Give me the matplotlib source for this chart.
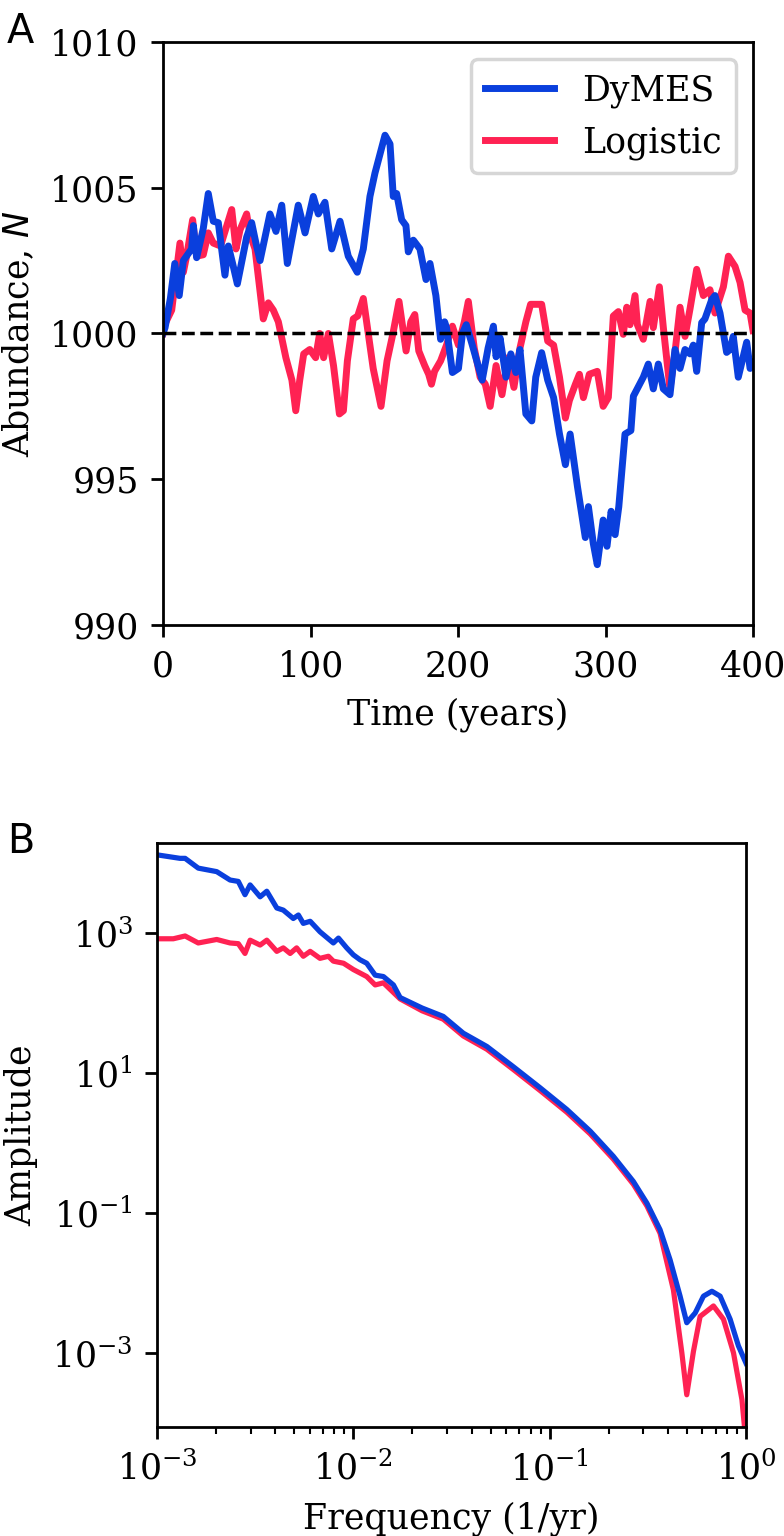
import matplotlib
matplotlib.use("Agg")
import matplotlib.pyplot as plt
import matplotlib.ticker as mticker
import numpy as np

plt.rcParams["font.family"] = "DejaVu Serif"

BLUE = "#0a3fdd"
RED = "#ff2253"

# --- Panel A: abundance time series ---
dymes_t = [0, 1.4, 5, 8, 11, 13.8, 19.4, 20.6, 22.8, 27.3, 30.7, 34.1, 37.5, 42, 44.3,
           47.2, 50.4, 56.7, 60.1, 63, 65.8, 72.5, 76.6, 80.5, 84.3, 91.7, 96.3, 101.9,
           105.3, 109.8, 114.4, 120, 125.6, 131.7, 135.8, 140.3, 143.7, 150.5, 153.9,
           156.1, 158.4, 161.8, 164.7, 166.3, 169.7, 174.2, 178.3, 181, 185, 188.2,
           190.9, 192.2, 196.2, 200.3, 203, 205.6, 209.7, 216.4, 220.4, 224, 225.8,
           228.5, 232.5, 235.8, 239.2, 242, 246, 250, 252.7, 256.7, 260.8, 264.8, 268.8,
           272.8, 276, 281, 286.3, 288.4, 291.7, 294.4, 298.4, 301, 303.8, 306.5, 309,
           313.2, 317.2, 318.9, 325.6, 329, 332.4, 335.8, 339.2, 343.7, 347.1, 350.5,
           353.9, 357.3, 359.5, 361.8, 365.2, 367.4, 372, 374.2, 377.6, 382.1, 384.4,
           386.6, 390, 395.7, 398, 400]
dymes_n = [1000.0, 1000.2, 1001.2, 1002.4, 1001.3, 1002.5, 1002.9, 1003.7, 1002.6, 1003.6,
           1004.8, 1003.85, 1003.8, 1002.0, 1003.0, 1002.4, 1001.7, 1003.3, 1003.8, 1003.1,
           1002.5, 1004.1, 1003.5, 1004.4, 1002.4, 1004.4, 1003.45, 1004.7, 1004.1, 1004.5,
           1002.9, 1003.85, 1002.65, 1002.1, 1002.9, 1004.7, 1005.5, 1006.8, 1006.5, 1004.7,
           1004.8, 1003.9, 1003.7, 1002.8, 1003.2, 1002.9, 1001.85, 1002.4, 1001.3, 999.8,
           1000.4, 1000.2, 998.66, 998.8, 1000.0, 1000.3, 999.6, 998.4, 999.5, 1000.25,
           999.2, 999.85, 998.5, 999.3, 998.66, 999.45, 997.24, 997.0, 998.5, 999.34,
           998.4, 997.8, 996.55, 995.5, 996.55, 994.74, 993.0, 994.06, 992.8, 992.07,
           993.6, 992.7, 993.9, 993.1, 994.06, 996.55, 996.67, 997.85, 998.5, 998.95,
           998.1, 998.95, 998.1, 997.9, 999.45, 998.8, 999.45, 999.3, 999.6, 998.7,
           1000.37, 1000.5, 1001.16, 1001.3, 1000.7, 999.35, 999.45, 999.9, 998.5,
           999.7, 998.8, 999.0]

logistic_t = [0, 1.1, 5.9, 11.5, 13.8, 16, 20.1, 22.8, 27.3, 30.7, 34.1, 39, 46.6, 49.5,
              52.2, 56.7, 59, 62.4, 68, 71.4, 74.8, 78.2, 83.3, 87.4, 90, 92.7, 95.4,
              99.5, 103.5, 106.2, 108.9, 112.1, 115.6, 119.6, 122.3, 125, 129, 132,
              135.8, 142.5, 147.8, 151.9, 155.9, 160, 164.8, 168, 170.7, 173.4, 177.4,
              180.1, 182, 184.1, 188.2, 192.2, 196.2, 200.3, 204.3, 207, 211, 215, 218.5,
              221.8, 225.8, 229.8, 233.9, 237.9, 242, 246, 249.2, 256.7, 260.8, 264.8,
              268.8, 272.8, 275.5, 279.6, 282.3, 285, 289, 294.4, 298.4, 301.9, 305.3,
              308.7, 312, 314.4, 316.6, 320, 321.6, 325.6, 330.2, 332.4, 336.5, 339.2,
              343.7, 347.1, 350.5, 353.9, 357.3, 361.8, 366.3, 370.8, 374.2, 379.9,
              383.3, 387.8, 391.2, 394.6, 398, 400]
logistic_n = [1000.0, 1000.3, 1000.8, 1003.1, 1002.1, 1002.65, 1003.9, 1002.65, 1002.7,
              1003.45, 1003.1, 1003.0, 1004.25, 1002.9, 1003.55, 1004.1, 1003.4, 1002.9,
              1000.5, 1001.05, 1000.8, 1000.4, 999.17, 998.4, 997.35, 998.4, 999.3,
              999.45, 999.17, 1000.0, 999.17, 1000.0, 998.9, 997.24, 997.35, 999.06,
              1000.5, 1000.6, 1001.2, 998.8, 997.5, 999.06, 1000.0, 1001.1, 999.4,
              1000.4, 1000.65, 999.4, 998.9, 998.6, 998.26, 998.7, 999.06, 999.6,
              1000.25, 999.6, 1000.4, 1001.1, 999.5, 998.5, 998.26, 997.5, 998.9, 997.9,
              999.17, 998.15, 999.5, 1000.4, 1001.0, 1001.0, 999.74, 999.6, 998.5, 997.1,
              997.7, 998.26, 998.6, 997.8, 998.6, 998.7, 997.5, 997.8, 1000.6, 1000.75,
              999.97, 1000.9, 1000.3, 1001.3, 1000.3, 999.8, 1001.1, 1000.2, 1001.6,
              1000.2, 998.1, 999.35, 1000.9, 999.9, 1000.85, 1002.2, 1001.3, 1001.5,
              1000.7, 1001.6, 1002.65, 1002.3, 1001.75, 1000.8, 1000.7, 1000.1]

carrying_capacity = 1000

# --- Panel B: amplitude spectra (log10 values) ---
dymes_logf = [-3.0, -2.883, -2.857, -2.79, -2.696, -2.628, -2.586, -2.552, -2.526, -2.475,
              -2.441, -2.39, -2.357, -2.306, -2.28, -2.255, -2.22, -2.17, -2.102, -2.076,
              -2.034, -2.0, -1.966, -1.932, -1.889, -1.847, -1.796, -1.762, -1.65, -1.542,
              -1.44, -1.32, -1.185, -1.049, -0.913, -0.794, -0.676, -0.574, -0.505,
              -0.438, -0.387, -0.336, -0.302, -0.259, -0.217, -0.174, -0.132, -0.081,
              -0.039, 0.0]
dymes_logamp = [4.12, 4.07, 4.07, 3.93, 3.88, 3.76, 3.74, 3.55, 3.69, 3.52, 3.60, 3.36,
                3.33, 3.21, 3.26, 3.14, 3.17, 3.02, 2.86, 2.93, 2.79, 2.69, 2.62, 2.57,
                2.40, 2.38, 2.26, 2.08, 1.93, 1.81, 1.57, 1.38, 1.09, 0.79, 0.48, 0.17,
                -0.19, -0.55, -0.86, -1.24, -1.67, -2.19, -2.57, -2.43, -2.19, -2.12,
                -2.19, -2.52, -2.9, -3.15]

logistic_logf = [-3.0, -2.917, -2.857, -2.79, -2.696, -2.628, -2.586, -2.552, -2.526,
                 -2.475, -2.441, -2.39, -2.357, -2.322, -2.289, -2.255, -2.22, -2.17,
                 -2.127, -2.102, -2.05, -2.0, -1.932, -1.889, -1.847, -1.762, -1.65,
                 -1.542, -1.44, -1.32, -1.185, -1.049, -0.913, -0.794, -0.676, -0.574,
                 -0.505, -0.438, -0.37, -0.327, -0.302, -0.268, -0.234, -0.166, -0.115,
                 -0.064, -0.021, 0.0]
logistic_logamp = [2.92, 2.92, 2.96, 2.86, 2.91, 2.86, 2.85, 2.71, 2.90, 2.83, 2.90, 2.74,
                   2.79, 2.71, 2.79, 2.67, 2.74, 2.64, 2.67, 2.60, 2.57, 2.48, 2.38, 2.26,
                   2.29, 2.06, 1.89, 1.77, 1.53, 1.34, 1.05, 0.75, 0.44, 0.13, -0.23,
                   -0.59, -0.90, -1.29, -2.1, -3.0, -3.6, -2.98, -2.48, -2.33, -2.52,
                   -3.0, -3.67, -4.3]

fig = plt.figure(figsize=(784 / 250, 1536 / 250), dpi=250)

# Panel A
axA = fig.add_axes([0.2079, 0.5931, 0.7526, 0.3796])
lA_red, = axA.plot(logistic_t, logistic_n, color=RED, lw=2.0, label="Logistic")
lA_blue, = axA.plot(dymes_t, dymes_n, color=BLUE, lw=2.0, label="DyMES")
axA.axhline(carrying_capacity, color="k", ls="--", lw=1)
axA.set_xlim(0, 400)
axA.set_ylim(990, 1010)
axA.set_yticks([990, 995, 1000, 1005, 1010])
axA.set_xticks([0, 100, 200, 300, 400])
axA.set_xlabel("Time (years)")
axA.set_ylabel("Abundance, $N$")
axA.legend(handles=[lA_blue, lA_red], loc="upper right")

# Panel B
axB = fig.add_axes([0.2003, 0.0710, 0.7513, 0.3802])
axB.plot(10 ** np.array(logistic_logf), 10 ** np.array(logistic_logamp), color=RED, lw=1.5)
axB.plot(10 ** np.array(dymes_logf), 10 ** np.array(dymes_logamp), color=BLUE, lw=1.5)
axB.set_xscale("log")
axB.set_yscale("log")
axB.set_xlim(1e-3, 1)
axB.set_ylim(10 ** -4.06, 10 ** 4.29)
axB.set_yticks([1e-3, 1e-1, 1e1, 1e3])
axB.yaxis.set_minor_locator(mticker.NullLocator())
axB.set_xlabel("Frequency (1/yr)")
axB.set_ylabel("Amplitude")

fig.text(0.009, 0.9925, "A", family="DejaVu Sans", fontsize=11.5, va="top", ha="left")
fig.text(0.009, 0.4650, "B", family="DejaVu Sans", fontsize=11.5, va="top", ha="left")

fig.savefig("out.png", dpi=250)
